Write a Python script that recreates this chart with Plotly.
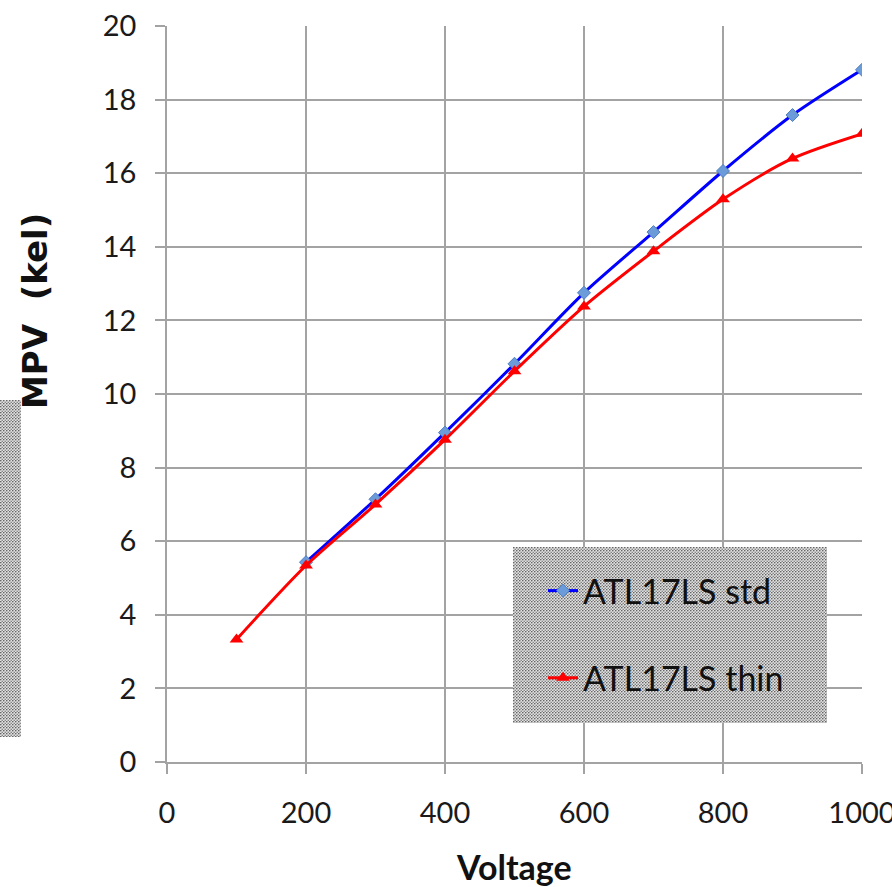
import base64
import plotly.graph_objects as go

# Measured MPV versus bias voltage for two sensor variants
voltage_std = [200, 300, 400, 500, 600, 700, 800, 900, 1000]
mpv_std = [5.43, 7.14, 8.95, 10.82, 12.75, 14.40, 16.06, 17.58, 18.81]

voltage_thin = [100, 200, 300, 400, 500, 600, 700, 800, 900, 1000]
mpv_thin = [3.33, 5.34, 7.00, 8.76, 10.62, 12.38, 13.88, 15.29, 16.40, 17.07]

series_names = ["ATL17LS std", "ATL17LS thin"]
x_ticks = [0, 200, 400, 600, 800, 1000]
y_ticks = [0, 2, 4, 6, 8, 10, 12, 14, 16, 18, 20]

W, H = 892, 887
L, R, T, B = 167, 30, 26, 125
PW, PH = W - L - R, H - T - B

FONT = "Lato"
GRID = "#a3a3a3"


def px_x(px):
    return (px - L) / PW


def px_y(py):
    return (H - B - py) / PH


def halftone(w, h):
    svg = (
        f'<svg xmlns="http://www.w3.org/2000/svg" width="{w}" height="{h}" '
        f'viewBox="0 0 {w} {h}">'
        '<defs><pattern id="p" width="3" height="3" patternUnits="userSpaceOnUse">'
        '<rect width="3" height="3" fill="#e2e2e2"/>'
        '<circle cx="0.75" cy="0.75" r="0.8" fill="#5c5c5c"/>'
        '<circle cx="2.25" cy="2.25" r="0.8" fill="#808080"/>'
        '</pattern></defs>'
        f'<rect width="{w}" height="{h}" fill="url(#p)"/>'
        '</svg>'
    )
    return "data:image/svg+xml;base64," + base64.b64encode(svg.encode()).decode()


fig = go.Figure()
fig.add_trace(go.Scatter(
    x=voltage_std, y=mpv_std, name=series_names[0], mode="lines+markers",
    line=dict(color="#0000ff", width=3, shape="spline", smoothing=0.8),
    marker=dict(symbol="diamond", size=10, color="#6b9bd8",
                line=dict(color="#4f7fc0", width=1)),
    legendgroup="a",
))
fig.add_trace(go.Scatter(
    x=voltage_thin, y=mpv_thin, name=series_names[1], mode="lines+markers",
    line=dict(color="#ff0000", width=3, shape="spline", smoothing=0.8),
    marker=dict(symbol="triangle-up", size=12, color="#ff0000"),
    legendgroup="b",
))

# Halftone panels: the legend backdrop and the strip at the left edge
images = []
for (x0, y0, x1, y1) in [(513, 547, 827, 723), (0, 400, 21, 737)]:
    images.append(dict(
        source=halftone(x1 - x0, y1 - y0), xref="paper", yref="paper",
        x=px_x(x0), y=px_y(y0), sizex=(x1 - x0) / PW, sizey=(y1 - y0) / PH,
        xanchor="left", yanchor="top", sizing="stretch", layer="above",
    ))

fig.update_layout(
    width=W, height=H,
    margin=dict(l=L, r=R, t=T, b=B, autoexpand=False),
    paper_bgcolor="white", plot_bgcolor="white",
    font=dict(family=FONT, color="#1a1a1a"),
    images=images,
    showlegend=True,
    legend=dict(
        x=px_x(543), y=px_y(562), xanchor="left", yanchor="top",
        bgcolor="rgba(0,0,0,0)", font=dict(family=FONT, size=34, color="#111"),
        itemwidth=30, tracegroupgap=40, traceorder="grouped",
    ),
    xaxis=dict(
        range=[0, 1000], tickvals=x_ticks, ticks="outside", ticklen=10,
        tickcolor=GRID, tickwidth=1.5, showgrid=True, gridcolor=GRID, gridwidth=1.5,
        showline=True, linecolor=GRID, linewidth=1.5, zeroline=False,
        ticklabelstandoff=14, ticklabeloverflow="allow", automargin=False,
        tickfont=dict(family=FONT, size=29, color="#1a1a1a"),
    ),
    yaxis=dict(
        range=[0, 20], tickvals=y_ticks, ticks="outside", ticklen=10,
        tickcolor=GRID, tickwidth=1.5, showgrid=True, gridcolor=GRID, gridwidth=1.5,
        showline=True, linecolor=GRID, linewidth=1.5, zeroline=False,
        ticklabelstandoff=13, ticklabeloverflow="allow", automargin=False,
        tickfont=dict(family=FONT, size=29, color="#1a1a1a"),
    ),
    annotations=[
        dict(text="<b>Voltage</b>", xref="paper", yref="paper",
             x=px_x(514), y=px_y(866), xanchor="center", yanchor="middle",
             showarrow=False, font=dict(family=FONT, size=34, color="#111")),
        dict(text="<b>MPV  (kel)</b>", xref="paper", yref="paper",
             x=px_x(35), y=px_y(311), xanchor="center", yanchor="middle",
             textangle=-90, showarrow=False,
             font=dict(family="DejaVu Sans", size=34, color="#111")),
    ],
)

fig.write_html("out.html")
